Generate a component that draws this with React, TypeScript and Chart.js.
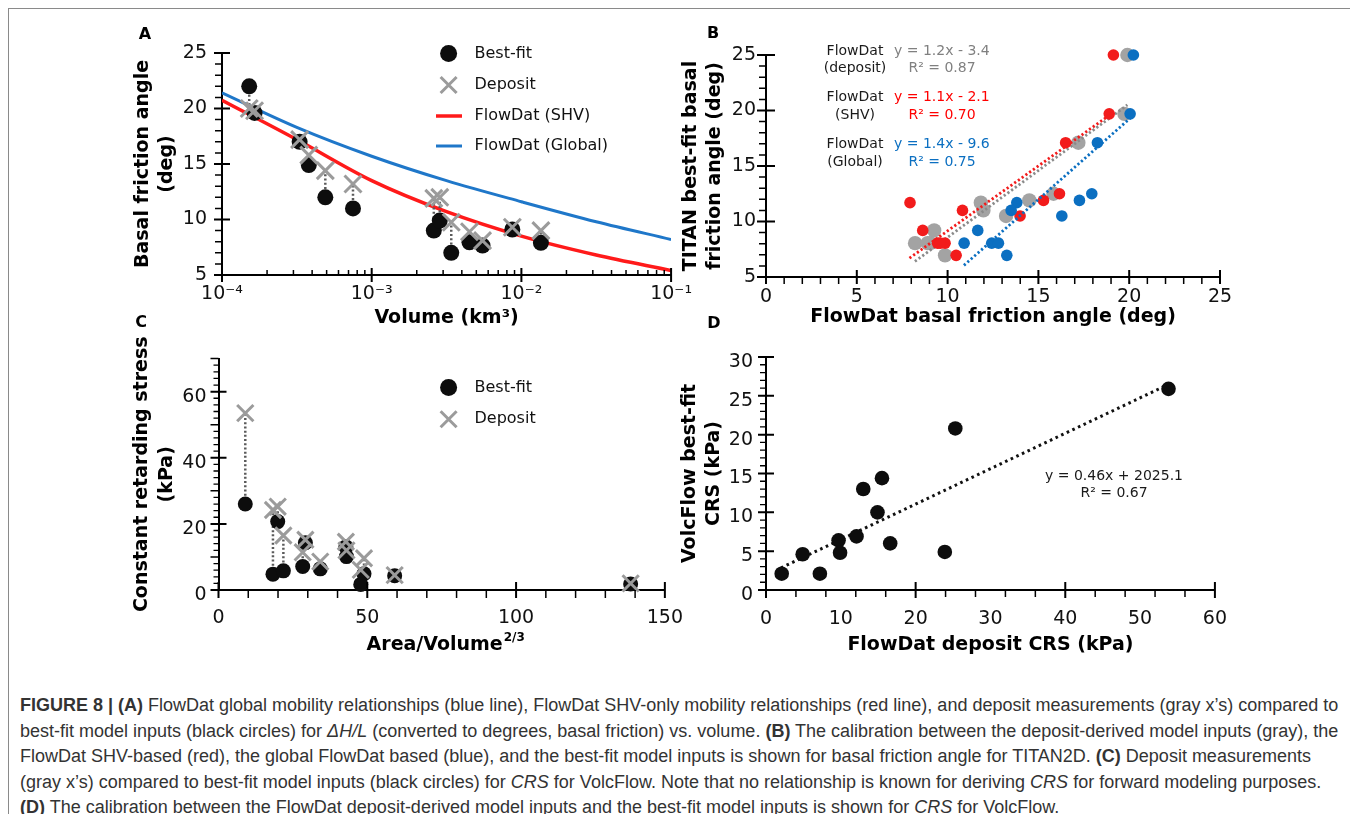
import React, { useEffect, useRef } from "react";
import { Chart, registerables } from "chart.js";

Chart.register(...registerables);

const SANS = "'DejaVu Sans', sans-serif";
const CAPTION_FONT = "'Liberation Sans', Arial, sans-serif";

// ---------------- Panel A : basal friction angle vs. volume ----------------
const volumeKm3 = [1.52e-4, 1.65e-4, 3.3e-4, 3.8e-4, 4.9e-4, 7.5e-4, 2.6e-3, 2.85e-3, 3.4e-3, 4.5e-3, 5.5e-3, 8.7e-3, 1.35e-2];
const bestFitAngle = [22.0, 19.6, 17.0, 14.9, 12.0, 11.0, 9.0, 9.9, 7.0, 7.95, 7.65, 9.1, 7.9];
const depositAngle = [20.0, 19.8, 17.2, 15.8, 14.4, 13.2, 11.9, 12.0, 9.75, 8.9, 8.1, 9.3, 9.0];
const curveVolumeKm3 = [1e-4, 3.16e-4, 1e-3, 3.16e-3, 1e-2, 3.16e-2, 1e-1];
const shvCurveAngle = [20.75, 17.2, 13.5, 10.7, 8.5, 6.8, 5.4];
const globalCurveAngle = [21.4, 18.3, 15.7, 13.5, 11.6, 9.8, 8.2];
const volumeTicks = [1e-4, 1e-3, 1e-2, 1e-1];
const volumeTickLabels = ["10\u207B\u2074", "10\u207B\u00B3", "10\u207B\u00B2", "10\u207B\u00B9"];
const angleTicksA = [5, 10, 15, 20, 25];

// ---------------- Panel B : TITAN best-fit vs FlowDat angle ----------------
const titanBestFitAngle = [25.0, 19.7, 17.1, 12.5, 11.9, 10.5, 11.7, 11.0, 9.2, 8.05, 8.05, 8.05, 6.95];
const depositFitAngle = [19.9, 19.74, 17.2, 15.83, 14.5, 13.22, 11.83, 11.97, 9.26, 8.21, 9.04, 8.9, 9.86];
const shvFitAngle = [19.13, 18.9, 16.5, 16.16, 15.28, 13.99, 7.93, 10.82, 8.63, 9.45, 9.86, 9.6, 10.47];
const globalFitAngle = [20.23, 20.05, 18.25, 17.94, 17.26, 16.29, 13.81, 13.5, 11.66, 10.91, 12.43, 12.8, 13.26];
const trendDepositX = [8.2, 19.9];
const trendDepositY = [6.4, 20.5];
const trendShvX = [7.9, 19.1];
const trendShvY = [6.7, 19.8];
const trendGlobalX = [10.9, 20.05];
const trendGlobalY = [6.05, 19.3];
const angleTicksBX = [0, 5, 10, 15, 20, 25];
const angleTicksBY = [5, 10, 15, 20, 25];

// ---------------- Panel C : CRS vs Area/Volume^(2/3) ----------------
const areaOverVolume = [9.0, 18.3, 19.9, 21.8, 29.2, 28.3, 34.2, 42.8, 43.0, 48.9, 47.8, 59.2, 138.5];
const bestFitCrs = [26.0, 4.8, 20.7, 5.8, 14.3, 7.1, 6.4, 13.1, 10.1, 4.9, 1.7, 4.3, 1.8];
const depositCrs = [53.5, 24.2, 25.2, 16.5, 15.2, 11.4, 8.6, 14.6, 12.0, 9.6, 6.1, 4.5, 2.0];
const areaTicks = [0, 50, 100, 150];
const crsTicksC = [0, 20, 40, 60];

// ---------------- Panel D : VolcFlow best-fit CRS vs FlowDat deposit CRS ----------------
const flowDatDepositCrs = [2.1, 4.9, 7.2, 9.7, 9.9, 12.1, 13.0, 14.9, 15.5, 16.6, 23.9, 25.3, 53.8];
const volcFlowBestFitCrs = [2.1, 4.6, 2.1, 6.4, 4.8, 6.9, 13.0, 10.0, 14.4, 6.0, 4.9, 20.8, 25.9];
const trendCrsX = [2.0, 53.2];
const trendCrsY = [2.85, 26.2];
const crsTicksDX = [0, 10, 20, 30, 40, 50, 60];
const crsTicksDY = [0, 5, 10, 15, 20, 25, 30];

// ---------------- colours ----------------
const C_BLACK = "#0d0d0d";
const C_XGRAY = "#9b9b9b";
const C_DOT = "#5a5a5a";
const C_RED = "#ff1a1a";
const C_BLUE = "#1f77c9";
const C_PT_RED = "#f21b1b";
const C_PT_BLUE = "#0b6fc1";
const C_PT_GRAY = "#a3a3a3";
const C_TXT_GRAY = "#808080";

type Box = { left: number; top: number; width: number; height: number };
type Area = { left: number; right: number; top: number; bottom: number };

const boxA: Box = { left: 125, top: 20, width: 575, height: 310 };
const areaA: Area = { left: 222, right: 677, top: 53, bottom: 275 };
const boxB: Box = { left: 675, top: 20, width: 570, height: 310 };
const areaB: Area = { left: 766, right: 1220, top: 55, bottom: 277 };
const boxC: Box = { left: 125, top: 330, width: 575, height: 330 };
const areaC: Area = { left: 218.5, right: 677, top: 358.6, bottom: 590 };
const boxD: Box = { left: 675, top: 330, width: 570, height: 330 };
const areaD: Area = { left: 766, right: 1220.4, top: 357, bottom: 590 };

const TICK_FONT = { family: SANS, size: 19 };
const TITLE_FONT = { family: SANS, size: 19, weight: "bold" as const, lineHeight: 1.29 };

function range(a: number, b: number, step: number, skip: number) {
  const out: number[] = [];
  for (let v = a; v <= b + 1e-9; v += step) {
    if (Math.abs(v / skip - Math.round(v / skip)) > 1e-6) out.push(Number(v.toFixed(6)));
  }
  return out;
}

function makeScale(p: {
  axis: "x" | "y";
  type?: string;
  min: number;
  max: number;
  tickValues: number[];
  label?: (v: number) => string;
  thickness: number;
  padding: number;
  labelOffset?: number;
  title?: string | string[];
  titlePad?: number;
}) {
  return {
    type: p.type ?? "linear",
    position: p.axis === "x" ? "bottom" : "left",
    min: p.min,
    max: p.max,
    afterBuildTicks: (s: any) => {
      s.ticks = p.tickValues.map((v) => ({ value: v }));
    },
    afterFit: (s: any) => {
      if (p.axis === "x") s.height = p.thickness;
      else s.width = p.thickness;
    },
    grid: { display: false, drawTicks: false },
    border: { display: true, color: "#000", width: 2 },
    ticks: {
      font: TICK_FONT,
      color: "#111",
      padding: p.padding,
      labelOffset: p.labelOffset ?? 0,
      maxRotation: 0,
      minRotation: 0,
      autoSkip: false,
      callback: (v: any) => (p.label ? p.label(Number(v)) : String(v)),
    },
    title: p.title
      ? {
          display: true,
          text: p.title,
          color: "#000",
          font: TITLE_FONT,
          padding: { top: p.titlePad ?? 0, bottom: p.titlePad ?? 0 },
        }
      : { display: false },
  };
}

type TickSpec = { axis: "x" | "y"; values: number[]; inLen: number; outLen: number; width: number };

function tickMarks(specs: TickSpec[]) {
  return {
    id: "tickMarks",
    afterDraw(chart: any) {
      const { ctx, chartArea, scales } = chart;
      ctx.save();
      ctx.strokeStyle = "#000";
      ctx.lineCap = "butt";
      for (const s of specs) {
        const sc = scales[s.axis];
        ctx.lineWidth = s.width;
        ctx.beginPath();
        for (const v of s.values) {
          const p = sc.getPixelForValue(v);
          if (s.axis === "x") {
            ctx.moveTo(p, chartArea.bottom - s.inLen);
            ctx.lineTo(p, chartArea.bottom + s.outLen);
          } else {
            ctx.moveTo(chartArea.left - s.outLen, p);
            ctx.lineTo(chartArea.left + s.inLen, p);
          }
        }
        ctx.stroke();
      }
      ctx.restore();
    },
  };
}

function overlay(box: Box, draw: (ctx: CanvasRenderingContext2D, chart: any) => void) {
  return {
    id: "overlay",
    afterDraw(chart: any) {
      const ctx = chart.ctx as CanvasRenderingContext2D;
      ctx.save();
      ctx.translate(-box.left, -box.top);
      draw(ctx, chart);
      ctx.restore();
    },
  };
}

function txt(
  ctx: CanvasRenderingContext2D,
  s: string,
  x: number,
  y: number,
  o: { size?: number; weight?: string; color?: string; align?: CanvasTextAlign } = {}
) {
  ctx.font = `${o.weight ?? "normal"} ${o.size ?? 16}px ${SANS}`;
  ctx.fillStyle = o.color ?? "#111";
  ctx.textAlign = o.align ?? "left";
  ctx.textBaseline = "middle";
  ctx.fillText(s, x, y);
}

function legendCircle(ctx: CanvasRenderingContext2D, x: number, y: number, r: number) {
  ctx.beginPath();
  ctx.arc(x, y, r, 0, Math.PI * 2);
  ctx.fillStyle = C_BLACK;
  ctx.fill();
}
function legendCross(ctx: CanvasRenderingContext2D, x: number, y: number, h: number) {
  ctx.beginPath();
  ctx.moveTo(x - h, y - h);
  ctx.lineTo(x + h, y + h);
  ctx.moveTo(x - h, y + h);
  ctx.lineTo(x + h, y - h);
  ctx.strokeStyle = C_XGRAY;
  ctx.lineWidth = 3;
  ctx.stroke();
}
function legendLine(ctx: CanvasRenderingContext2D, x1: number, x2: number, y: number, color: string, w: number) {
  ctx.beginPath();
  ctx.moveTo(x1, y);
  ctx.lineTo(x2, y);
  ctx.strokeStyle = color;
  ctx.lineWidth = w;
  ctx.stroke();
}

function layoutFor(box: Box, area: Area) {
  return {
    padding: { left: 0, top: area.top - box.top, right: box.left + box.width - area.right, bottom: 0 },
  };
}

const pts = (xs: number[], ys: number[]) => xs.map((x, i) => ({ x, y: ys[i] }));
const pairLines = (xs: number[], a: number[], b: number[]) =>
  xs.flatMap((x, i) => [
    { x, y: a[i] },
    { x, y: b[i] },
    { x, y: null as any },
  ]);

function baseOptions(box: Box, area: Area, scales: any) {
  return {
    responsive: false,
    animation: false as const,
    devicePixelRatio: 1,
    events: [] as any[],
    layout: layoutFor(box, area),
    plugins: { legend: { display: false }, tooltip: { enabled: false } },
    scales,
  };
}

// ---------------- chart configs ----------------
function configA() {
  return {
    type: "scatter",
    data: {
      datasets: [
        {
          data: pts(volumeKm3, depositAngle),
          pointStyle: "crossRot",
          pointRadius: 12,
          pointBorderWidth: 3,
          borderWidth: 3,
          borderColor: C_XGRAY,
          backgroundColor: C_XGRAY,
          clip: false,
        },
        {
          data: pts(volumeKm3, bestFitAngle),
          pointStyle: "circle",
          pointRadius: 8,
          pointBorderWidth: 0,
          borderColor: C_BLACK,
          backgroundColor: C_BLACK,
          clip: false,
        },
        {
          data: pairLines(volumeKm3, bestFitAngle, depositAngle),
          showLine: true,
          spanGaps: false,
          pointRadius: 0,
          borderColor: C_DOT,
          borderWidth: 2.5,
          borderDash: [2, 2.2],
        },
        {
          data: pts(curveVolumeKm3, shvCurveAngle),
          showLine: true,
          pointRadius: 0,
          borderColor: C_RED,
          borderWidth: 3.5,
          cubicInterpolationMode: "monotone",
        },
        {
          data: pts(curveVolumeKm3, globalCurveAngle),
          showLine: true,
          pointRadius: 0,
          borderColor: C_BLUE,
          borderWidth: 3,
          cubicInterpolationMode: "monotone",
        },
      ],
    },
    options: baseOptions(boxA, areaA, {
      x: makeScale({
        axis: "x",
        type: "logarithmic",
        min: 1e-4,
        max: 1e-1,
        tickValues: volumeTicks,
        label: (v) => volumeTickLabels[volumeTicks.findIndex((t) => Math.abs(t - v) / t < 1e-6)] ?? "",
        thickness: boxA.top + boxA.height - areaA.bottom,
        padding: 8,
        title: "Volume (km\u00B3)",
        titlePad: 0,
      }),
      y: makeScale({
        axis: "y",
        min: 5,
        max: 25,
        tickValues: angleTicksA,
        thickness: areaA.left - boxA.left,
        padding: 15,
        title: ["Basal friction angle", "(deg)"],
        titlePad: 5.75,
      }),
    }),
    plugins: [
      tickMarks([
        { axis: "x", values: volumeTicks, inLen: 7, outLen: 7, width: 2 },
        {
          axis: "x",
          values: [1e-4, 1e-3, 1e-2].flatMap((d) => [2, 3, 4, 5, 6, 7, 8, 9].map((m) => m * d)),
          inLen: 5,
          outLen: 0,
          width: 1.5,
        },
        { axis: "y", values: angleTicksA, inLen: 8, outLen: 8, width: 2 },
        { axis: "y", values: range(5, 25, 1, 5), inLen: 0, outLen: 7, width: 1.5 },
      ]),
      overlay(boxA, (ctx) => {
        legendCircle(ctx, 448.6, 53.5, 8.5);
        legendCross(ctx, 448.6, 85, 8);
        legendLine(ctx, 436, 462, 116, C_RED, 3.5);
        legendLine(ctx, 436, 462, 146, C_BLUE, 3);
        txt(ctx, "Best-fit", 474.5, 53.5);
        txt(ctx, "Deposit", 474.5, 85);
        txt(ctx, "FlowDat (SHV)", 474.5, 116);
        txt(ctx, "FlowDat (Global)", 474.5, 146);
      }),
    ],
  };
}

function configB() {
  const trend = (xs: number[], ys: number[], color: string) => ({
    data: pts(xs, ys),
    showLine: true,
    pointRadius: 0,
    borderColor: color,
    borderWidth: 2.8,
    borderDash: [2.2, 2.4],
  });
  const scatter = (xs: number[], color: string, r: number) => ({
    data: pts(xs, titanBestFitAngle),
    pointStyle: "circle",
    pointRadius: r,
    pointBorderWidth: 0,
    borderColor: color,
    backgroundColor: color,
    clip: false,
  });
  return {
    type: "scatter",
    data: {
      datasets: [
        trend(trendGlobalX, trendGlobalY, C_PT_BLUE),
        scatter(globalFitAngle, C_PT_BLUE, 5.8),
        trend(trendShvX, trendShvY, C_PT_RED),
        scatter(shvFitAngle, C_PT_RED, 5.8),
        trend(trendDepositX, trendDepositY, "#8a8a8a"),
        scatter(depositFitAngle, C_PT_GRAY, 7.2),
      ],
    },
    options: baseOptions(boxB, areaB, {
      x: makeScale({
        axis: "x",
        min: 0,
        max: 25,
        tickValues: angleTicksBX,
        thickness: boxB.top + boxB.height - areaB.bottom,
        padding: 8.3,
        title: "FlowDat basal friction angle (deg)",
        titlePad: 0.75,
      }),
      y: makeScale({
        axis: "y",
        min: 5,
        max: 25,
        tickValues: angleTicksBY,
        thickness: areaB.left - boxB.left,
        padding: 10,
        title: ["TITAN best-fit basal", "friction angle (deg)"],
        titlePad: 3.75,
      }),
    }),
    plugins: [
      tickMarks([
        { axis: "x", values: angleTicksBX, inLen: 7, outLen: 7, width: 2 },
        { axis: "x", values: range(0, 25, 1, 5), inLen: 0, outLen: 7, width: 1.5 },
        { axis: "y", values: angleTicksBY, inLen: 9, outLen: 9, width: 2 },
        { axis: "y", values: range(5, 25, 1, 5), inLen: 0, outLen: 7, width: 1.5 },
      ]),
      overlay(boxB, (ctx) => {
        const rows: [string, string, string, string, number][] = [
          ["FlowDat", "(deposit)", "y = 1.2x - 3.4", "R\u00B2 = 0.87", 51],
          ["FlowDat", "(SHV)", "y = 1.1x - 2.1", "R\u00B2 = 0.70", 97.5],
          ["FlowDat", "(Global)", "y = 1.4x - 9.6", "R\u00B2 = 0.75", 144.5],
        ];
        const colors = [C_TXT_GRAY, "#ff0000", C_PT_BLUE];
        rows.forEach((r, i) => {
          const y = r[4];
          txt(ctx, r[0], 855, y, { size: 14, align: "center", color: "#1a1a1a" });
          txt(ctx, r[1], 855, y + 17.8, { size: 14, align: "center", color: "#1a1a1a" });
          txt(ctx, r[2], 894, y, { size: 14, color: colors[i] });
          txt(ctx, r[3], 942, y + 17.8, { size: 14, align: "center", color: colors[i] });
        });
      }),
    ],
  };
}

function configC() {
  return {
    type: "scatter",
    data: {
      datasets: [
        {
          data: pts(areaOverVolume, depositCrs),
          pointStyle: "crossRot",
          pointRadius: 11.5,
          pointBorderWidth: 3,
          borderWidth: 3,
          borderColor: C_XGRAY,
          backgroundColor: C_XGRAY,
          clip: false,
        },
        {
          data: pts(areaOverVolume, bestFitCrs),
          pointStyle: "circle",
          pointRadius: 7.5,
          pointBorderWidth: 0,
          borderColor: C_BLACK,
          backgroundColor: C_BLACK,
          clip: false,
        },
        {
          data: pairLines(areaOverVolume, bestFitCrs, depositCrs),
          showLine: true,
          spanGaps: false,
          pointRadius: 0,
          borderColor: C_DOT,
          borderWidth: 2.5,
          borderDash: [2, 2.2],
        },
      ],
    },
    options: baseOptions(boxC, areaC, {
      x: makeScale({
        axis: "x",
        min: 0,
        max: 150,
        tickValues: areaTicks,
        thickness: boxC.top + boxC.height - areaC.bottom,
        padding: 17,
      }),
      y: makeScale({
        axis: "y",
        min: 0,
        max: 70,
        tickValues: crsTicksC,
        thickness: areaC.left - boxC.left,
        padding: 12,
        labelOffset: 5,
        title: ["Constant retarding stress", "(kPa)"],
        titlePad: 5.25,
      }),
    }),
    plugins: [
      tickMarks([
        { axis: "x", values: areaTicks, inLen: 8, outLen: 8, width: 2 },
        { axis: "x", values: range(0, 150, 10, 50), inLen: 0, outLen: 8, width: 1.5 },
        { axis: "y", values: crsTicksC, inLen: 8, outLen: 8, width: 2 },
        { axis: "y", values: [10, 30, 50, 70], inLen: 0, outLen: 8, width: 1.5 },
        { axis: "y", values: range(0, 70, 2, 10), inLen: 0, outLen: 5, width: 1.3 },
      ]),
      overlay(boxC, (ctx, chart) => {
        legendCircle(ctx, 448.6, 387.5, 8.5);
        legendCross(ctx, 448.6, 419.3, 8);
        txt(ctx, "Best-fit", 474.5, 387.5);
        txt(ctx, "Deposit", 474.5, 419.3);
        // x-axis title with superscript
        const ca = chart.chartArea;
        const cx = boxC.left + (ca.left + ca.right) / 2 + 4;
        const cy = 645;
        ctx.font = `bold 19px ${SANS}`;
        const w1 = ctx.measureText("Area/Volume").width;
        ctx.font = `bold 12px ${SANS}`;
        const w2 = ctx.measureText("2/3").width;
        const x0 = cx - (w1 + w2 + 1) / 2;
        txt(ctx, "Area/Volume", x0, cy, { size: 19, weight: "bold", color: "#000" });
        txt(ctx, "2/3", x0 + w1 + 1, cy - 7, { size: 12, weight: "bold", color: "#000" });
      }),
    ],
  };
}

function configD() {
  return {
    type: "scatter",
    data: {
      datasets: [
        {
          data: pts(flowDatDepositCrs, volcFlowBestFitCrs),
          pointStyle: "circle",
          pointRadius: 7.3,
          pointBorderWidth: 0,
          borderColor: C_BLACK,
          backgroundColor: C_BLACK,
          clip: false,
        },
        {
          data: pts(trendCrsX, trendCrsY),
          showLine: true,
          pointRadius: 0,
          borderColor: "#111",
          borderWidth: 3,
          borderDash: [2.6, 3.6],
        },
      ],
    },
    options: baseOptions(boxD, areaD, {
      x: makeScale({
        axis: "x",
        min: 0,
        max: 60,
        tickValues: crsTicksDX,
        thickness: boxD.top + boxD.height - areaD.bottom,
        padding: 18,
        title: "FlowDat deposit CRS (kPa)",
        titlePad: 2.75,
      }),
      y: makeScale({
        axis: "y",
        min: 0,
        max: 30,
        tickValues: crsTicksDY,
        thickness: areaD.left - boxD.left,
        padding: 13,
        labelOffset: 5,
        title: ["VolcFlow best-fit", "CRS (kPa)"],
        titlePad: 2.75,
      }),
    }),
    plugins: [
      tickMarks([
        { axis: "x", values: [0, 20, 40, 60], inLen: 8, outLen: 8, width: 2 },
        { axis: "x", values: range(0, 60, 4, 20), inLen: 0, outLen: 7, width: 1.5 },
        { axis: "y", values: crsTicksDY, inLen: 8, outLen: 8, width: 2 },
        { axis: "y", values: range(0, 30, 1, 5), inLen: 0, outLen: 6, width: 1.3 },
      ]),
      overlay(boxD, (ctx) => {
        txt(ctx, "y = 0.46x + 2025.1", 1114, 476, { size: 14, align: "center", color: "#1a1a1a" });
        txt(ctx, "R\u00B2 = 0.67", 1114, 493, { size: 14, align: "center", color: "#1a1a1a" });
      }),
    ],
  };
}

function ChartCanvas({ box, make }: { box: Box; make: () => any }) {
  const ref = useRef<HTMLCanvasElement>(null);
  useEffect(() => {
    const chart = new Chart(ref.current as HTMLCanvasElement, make());
    return () => chart.destroy();
  }, []);
  return (
    <canvas
      ref={ref}
      width={box.width}
      height={box.height}
      style={{ position: "absolute", left: box.left - 9, top: box.top - 9, width: box.width, height: box.height }}
    />
  );
}

const captionLines: React.ReactNode[] = [
  <>
    <b>FIGURE 8 | (A)</b> FlowDat global mobility relationships (blue line), FlowDat SHV-only mobility relationships (red
    line), and deposit measurements (gray x’s) compared to
  </>,
  <>
    best-fit model inputs (black circles) for <i>ΔH/L</i> (converted to degrees, basal friction) vs. volume. <b>(B)</b> The
    calibration between the deposit-derived model inputs (gray), the
  </>,
  <>
    FlowDat SHV-based (red), the global FlowDat based (blue), and the best-fit model inputs is shown for basal friction
    angle for TITAN2D. <b>(C)</b> Deposit measurements
  </>,
  <>
    (gray x’s) compared to best-fit model inputs (black circles) for <i>CRS</i> for VolcFlow. Note that no relationship is
    known for deriving <i>CRS</i> for forward modeling purposes.
  </>,
  <>
    <b>(D)</b> The calibration between the FlowDat deposit-derived model inputs and the best-fit model inputs is shown for{" "}
    <i>CRS</i> for VolcFlow.
  </>,
];
const captionY = [705, 731, 756, 782, 807];

const letters: [string, number, number][] = [
  ["A", 145, 34],
  ["B", 713, 33],
  ["C", 141, 322],
  ["D", 714, 323],
];

export default function App() {
  useEffect(() => {
    document.body.style.overflow = "hidden";
  }, []);
  return (
    <div
      style={{
        position: "relative",
        width: 1346,
        height: 806,
        boxSizing: "border-box",
        border: "1px solid #8a8a8a",
        borderBottom: "none",
        background: "#fff",
      }}
    >
      <ChartCanvas box={boxA} make={configA} />
      <ChartCanvas box={boxB} make={configB} />
      <ChartCanvas box={boxC} make={configC} />
      <ChartCanvas box={boxD} make={configD} />
      {letters.map(([l, x, y]) => (
        <div
          key={l}
          style={{
            position: "absolute",
            left: x - 9 - 10,
            top: y - 9 - 10,
            width: 20,
            height: 20,
            lineHeight: "20px",
            textAlign: "center",
            fontFamily: SANS,
            fontWeight: "bold",
            fontSize: 16,
            color: "#000",
          }}
        >
          {l}
        </div>
      ))}
      {captionLines.map((c, i) => (
        <div
          key={i}
          style={{
            position: "absolute",
            left: 20 - 9,
            top: captionY[i] - 9 - 11,
            height: 22,
            lineHeight: "22px",
            whiteSpace: "nowrap",
            fontFamily: CAPTION_FONT,
            fontSize: 18,
            color: "#333",
          }}
        >
          {c}
        </div>
      ))}
    </div>
  );
}
